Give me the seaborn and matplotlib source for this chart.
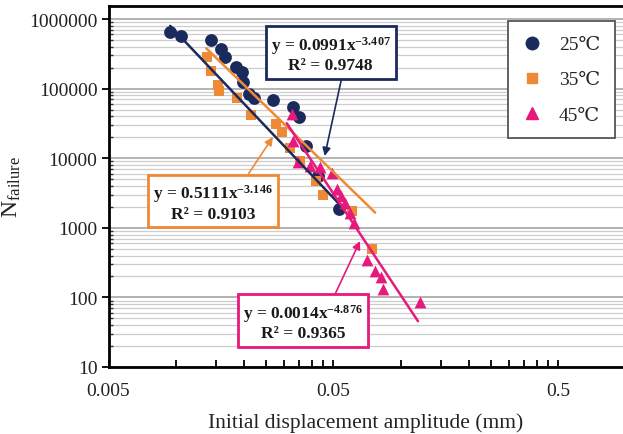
import numpy as np
import pandas as pd
import matplotlib
matplotlib.use("Agg")
import matplotlib.pyplot as plt
import seaborn as sns
from matplotlib.lines import Line2D
from matplotlib.ticker import FixedLocator, NullFormatter, FixedFormatter

# ---- data -------------------------------------------------------------
temps = ["25℃", "35℃", "45℃"]

amp_25 = [0.0094, 0.0105, 0.0143, 0.0158, 0.0165, 0.0184, 0.0196, 0.0198,
          0.0211, 0.0222, 0.0269, 0.0330, 0.0351, 0.0377, 0.0427, 0.0529]
n_25 = [650000, 570000, 499000, 371000, 284000, 204000, 173000, 124000,
        83600, 73300, 68600, 54400, 39100, 15000, 5550, 1860]

amp_35 = [0.0137, 0.0143, 0.0153, 0.0155, 0.0186, 0.0215, 0.0278, 0.0295,
          0.0320, 0.0355, 0.0418, 0.0449, 0.0604, 0.0742]
n_35 = [284000, 179000, 113000, 92400, 73300, 41800, 31000, 23800,
        14000, 9120, 4700, 2960, 1740, 495]

amp_45 = [0.0327, 0.0330, 0.0348, 0.0393, 0.0436, 0.0493, 0.0518, 0.0540,
          0.0562, 0.0592, 0.0617, 0.0705, 0.0765, 0.0813, 0.0830, 0.1210]
n_45 = [43200, 17700, 8820, 7730, 7480, 6130, 3610, 2860,
        2270, 1630, 1170, 344, 239, 196, 132, 86]

# power-law trend lines  N = a * x^b
coef = [0.0991, 0.5111, 0.0014]
expo = [-3.407, -3.146, -4.876]
r2 = [0.9748, 0.9103, 0.9365]
fit_lo = [0.0094, 0.0136, 0.031]
fit_hi = [0.0545, 0.0766, 0.1187]

x_ticks = [0.005, 0.05, 0.5]
x_tick_labels = ["0.005", "0.05", "0.5"]
y_ticks = [10, 100, 1000, 10000, 100000, 1000000]
y_tick_labels = ["10", "100", "1000", "10000", "100000", "1000000"]

# ---- style ------------------------------------------------------------
colors = ["#1b2a5c", "#ee8a36", "#e6197c"]
markers = ["o", "s", "^"]
msize = [85, 55, 72]

sns.set_theme(style="white")
plt.rcParams["font.family"] = ["Liberation Serif", "DejaVu Serif", "Noto Sans CJK SC"]
plt.rcParams["mathtext.fontset"] = "custom"
plt.rcParams["mathtext.rm"] = "Liberation Serif"
plt.rcParams["mathtext.bf"] = "Liberation Serif:bold"
plt.rcParams["mathtext.it"] = "Liberation Serif:italic"

W, H = 623, 435
fig = plt.figure(figsize=(W / 100, H / 100), dpi=100)
ax = fig.add_axes([108.5 / W, 67 / H, 1 - 108.5 / W, 361 / H])

ax.set_xscale("log")
ax.set_yscale("log")
ax.set_xlim(0.005, 0.968)
ax.set_ylim(10, 1.54e6)

# horizontal grid at every decade and sub-decade
ax.set_axisbelow(True)
ax.yaxis.grid(True, which="major", color="#b2b2b2", lw=1.4)
ax.yaxis.grid(True, which="minor", color="#cdcdcd", lw=0.9)
ax.xaxis.grid(False, which="both")

# ---- scatter ----------------------------------------------------------
frames = []
for t, a, n in zip(temps, [amp_25, amp_35, amp_45], [n_25, n_35, n_45]):
    frames.append(pd.DataFrame({"amp": a, "n": n, "temp": t}))
df = pd.concat(frames, ignore_index=True)

for t, c, m, s in zip(temps, colors, markers, msize):
    sns.scatterplot(data=df[df["temp"] == t], x="amp", y="n", color=c,
                    marker=m, s=s, linewidth=0, legend=False, ax=ax, zorder=3)

# ---- trend lines ------------------------------------------------------
for t, c, a, b, lo, hi in zip(temps, colors, coef, expo, fit_lo, fit_hi):
    xs = np.geomspace(lo, hi, 60)
    fit = pd.DataFrame({"amp": xs, "n": a * xs ** b})
    sns.lineplot(data=fit, x="amp", y="n", color=c, lw=1.8, ax=ax, zorder=4)

# ---- axes -------------------------------------------------------------
ax.xaxis.set_major_locator(FixedLocator(x_ticks))
ax.xaxis.set_major_formatter(FixedFormatter(x_tick_labels))
x_minor = [k * d for d in (0.005, 0.05) for k in range(2, 10)]
ax.xaxis.set_minor_locator(FixedLocator(x_minor))
ax.xaxis.set_minor_formatter(NullFormatter())

ax.yaxis.set_major_locator(FixedLocator(y_ticks))
ax.yaxis.set_major_formatter(FixedFormatter(y_tick_labels))
y_minor = [k * d for d in (10, 100, 1000, 10000, 100000, 1000000) for k in range(2, 10)]
ax.yaxis.set_minor_locator(FixedLocator([v for v in y_minor if v < 1.54e6]))
ax.yaxis.set_minor_formatter(NullFormatter())

ax.tick_params(axis="x", which="both", direction="in", length=5, width=1.3,
               color="black", labelsize=14, pad=11, labelcolor="#222222")
ax.tick_params(axis="y", which="major", direction="out", length=5, width=1.3,
               color="black", labelsize=14, pad=3, labelcolor="#222222")
ax.tick_params(axis="y", which="minor", direction="in", length=3, width=1.0,
               color="#333333")
ax.tick_params(bottom=True, left=True, which="both")

for side in ("left", "bottom", "top"):
    ax.spines[side].set_color("black")
    ax.spines[side].set_linewidth(2.0)
ax.spines["right"].set_visible(False)

ax.set_xlabel("Initial displacement amplitude (mm)", fontsize=15.5,
              color="#222222", labelpad=9)
ax.set_ylabel(r"$\mathregular{N_{failure}}$", fontsize=17, color="#222222",
              labelpad=4)

# ---- legend -----------------------------------------------------------
handles = [Line2D([], [], marker=m, color=c, linestyle="None", markersize=ms)
           for m, c, ms in zip(markers, colors, [9, 7.5, 9])]
leg = ax.legend(handles, temps, loc="upper right",
                bbox_to_anchor=(0.9845, 0.958), borderaxespad=0,
                fontsize=14, frameon=True, fancybox=False, framealpha=1,
                edgecolor="#555555", borderpad=0.75, labelspacing=0.9,
                handlelength=1.0, handletextpad=0.9)
leg.get_frame().set_linewidth(1.3)

# ---- equation call-outs ----------------------------------------------
box_centre = [(330.7, 380.5), (213.0, 232.0), (302.8, 112.5)]
arrow_tip = [(0.0457, 10770), (0.0269, 20200), (0.0656, 646)]
arrow_root = [(0.6, 0.0), (0.75, 1.0), (0.74, 1.0)]
for i in range(3):
    label = (f"y = {coef[i]}x$^{{\\mathbf{{{expo[i]}}}}}$\n"
             f"R² = {r2[i]}")
    ax.annotate(label, xy=arrow_tip[i], xycoords="data",
                xytext=box_centre[i], textcoords="figure pixels",
                ha="center", va="center", multialignment="center",
                fontsize=12.5, fontweight="bold", color="#1a1a1a",
                linespacing=1.15, zorder=6,
                bbox=dict(boxstyle="square,pad=0.3", fc="white",
                          ec=colors[i], lw=2.0),
                arrowprops=dict(arrowstyle="-|>", color=colors[i], lw=1.2,
                                mutation_scale=12, shrinkA=0, shrinkB=0,
                                relpos=arrow_root[i]))

fig.savefig("out.png", dpi=100)
